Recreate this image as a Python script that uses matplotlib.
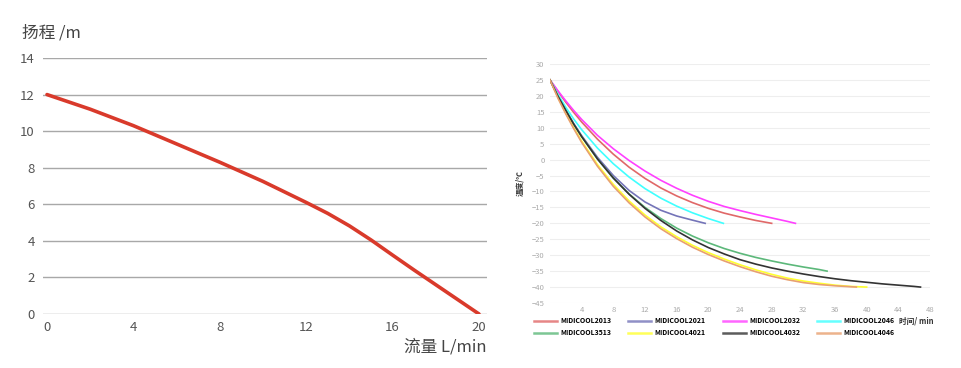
import matplotlib
matplotlib.use("Agg")
import matplotlib.pyplot as plt

plt.rcParams['font.family'] = ['Noto Sans CJK SC', 'DejaVu Sans']

# 扬程 - 流量
flow = [0, 2, 4, 6, 8, 10, 12, 13, 14, 15, 16, 17, 18, 19, 20]
head = [12.0, 11.2, 10.3, 9.3, 8.3, 7.25, 6.1, 5.5, 4.82, 4.05, 3.22, 2.4, 1.6, 0.8, 0.0]
flow_ticks = [0, 4, 8, 12, 16, 20]
head_ticks = [0, 2, 4, 6, 8, 10, 12, 14]

# 温度 - 时间
t_2013 = [0, 1, 2, 3, 4, 6, 8, 10, 12, 14, 16, 18, 20, 22, 24, 26, 28]
T_2013 = [25, 21.4, 18.0, 14.8, 11.8, 6.4, 1.7, -2.4, -5.9, -8.9, -11.4, -13.5, -15.3, -16.8, -18.0, -19.1, -20.0]
t_2021 = [0, 1, 2, 3, 4, 6, 8, 10, 12, 14, 16, 18, 19.6]
T_2021 = [25, 19.9, 15.5, 11.3, 7.5, 0.7, -5.0, -9.7, -13.3, -15.9, -17.7, -19.0, -20.0]
t_2032 = [0, 1, 2, 3, 4, 6, 8, 10, 12, 14, 16, 18, 20, 22, 24, 26, 28, 30, 31]
T_2032 = [25, 21.6, 18.4, 15.4, 12.6, 7.6, 3.4, -0.3, -3.6, -6.5, -9.0, -11.2, -13.1, -14.7, -16.0, -17.2, -18.3, -19.4, -20.0]
t_2046 = [0, 1, 2, 3, 4, 6, 8, 10, 12, 14, 16, 18, 20, 21.9]
T_2046 = [25, 20.5, 16.4, 12.7, 9.4, 3.6, -1.3, -5.5, -9.1, -12.1, -14.6, -16.7, -18.5, -20.0]
t_3513 = [0, 1, 2, 3, 4, 6, 8, 10, 12, 14, 16, 18, 20, 22, 24, 26, 28, 30, 32, 34, 35]
T_3513 = [25, 19.9, 15.4, 11.1, 7.2, 0.2, -5.8, -10.8, -15.0, -18.5, -21.5, -24.0, -26.1, -27.9, -29.4, -30.7, -31.8, -32.8, -33.7, -34.5, -35.0]
t_4021 = [0, 1, 2, 3, 4, 6, 8, 10, 12, 14, 16, 18, 20, 22, 24, 26, 28, 30, 32, 34, 36, 38, 40]
T_4021 = [25, 19.5, 14.6, 10.0, 5.8, -1.6, -7.8, -13.0, -17.4, -21.1, -24.2, -26.9, -29.2, -31.2, -33.0, -34.6, -36.0, -37.2, -38.1, -38.8, -39.4, -39.8, -40.0]
t_4032 = [0, 1, 2, 3, 4, 6, 8, 10, 12, 14, 16, 18, 20, 22, 24, 26, 28, 30, 32, 34, 36, 38, 40, 42, 44, 46, 46.8]
T_4032 = [25, 19.9, 15.4, 11.1, 7.2, 0.2, -5.8, -10.9, -15.3, -19.1, -22.4, -25.2, -27.6, -29.6, -31.4, -32.8, -34.0, -35.0, -35.9, -36.7, -37.4, -38.0, -38.5, -39.0, -39.4, -39.8, -40.0]
t_4046 = [0, 1, 2, 3, 4, 6, 8, 10, 12, 14, 16, 18, 20, 22, 24, 26, 28, 30, 32, 34, 36, 38.7]
T_4046 = [25, 19.3, 14.3, 9.7, 5.4, -2.1, -8.4, -13.6, -18.0, -21.7, -24.8, -27.5, -29.8, -31.8, -33.6, -35.2, -36.6, -37.7, -38.6, -39.2, -39.6, -40.0]

models = ['MIDICOOL2013', 'MIDICOOL2021', 'MIDICOOL2032', 'MIDICOOL2046',
          'MIDICOOL3513', 'MIDICOOL4021', 'MIDICOOL4032', 'MIDICOOL4046']
times = [t_2013, t_2021, t_2032, t_2046, t_3513, t_4021, t_4032, t_4046]
temps = [T_2013, T_2021, T_2032, T_2046, T_3513, T_4021, T_4032, T_4046]
colors = ['#e06868', '#7474b8', '#ff40ff', '#40ffff', '#5cb87a', '#ffff30', '#333333', '#e8a070']
time_ticks = [4, 8, 12, 16, 20, 24, 28, 32, 36, 40, 44, 48]
temp_ticks = list(range(-45, 31, 5))

fig = plt.figure(figsize=(9.61, 3.68), dpi=100)

# 左图
ax1 = fig.add_axes([43 / 961, 1 - 314 / 368, 444 / 961, 256 / 368])
ax1.plot(flow, head, color='#d93a2b', lw=2.6, solid_capstyle='round')
ax1.set_xlim(-0.185, 20.37)
ax1.set_ylim(0, 14)
ax1.set_xticks(flow_ticks)
ax1.set_yticks(head_ticks)
ax1.grid(axis='y', color='#a8a8a8', lw=1)
ax1.set_axisbelow(True)
for s in ax1.spines.values():
    s.set_visible(False)
ax1.tick_params(length=0, labelsize=9.5, labelcolor='#555555', pad=6)
ax1.tick_params(axis='x', pad=5)
fig.text(22 / 961, 1 - 33 / 368, '扬程 /m', fontsize=12, color='#444444', va='center', ha='left')
fig.text(487 / 961, 1 - 347 / 368, '流量 L/min', fontsize=12, color='#444444', va='center', ha='right')

# 右图
ax2 = fig.add_axes([550 / 961, 1 - 303 / 368, 380 / 961, 239 / 368])
lines = []
for t, T, c, m in zip(times, temps, colors, models):
    ln, = ax2.plot(t, T, color=c, lw=1.2, label=m)
    lines.append(ln)
ax2.set_xlim(0, 48)
ax2.set_ylim(-45, 30)
ax2.set_xticks(time_ticks)
ax2.set_yticks(temp_ticks)
ax2.grid(axis='y', color='#eeeeee', lw=0.8)
ax2.set_axisbelow(True)
for s in ax2.spines.values():
    s.set_visible(False)
ax2.tick_params(length=0, labelsize=5.5, labelcolor='#aaaaaa', pad=4)
ax2.tick_params(axis='x', pad=2)
ax2.set_ylabel('温度/℃', fontsize=5.5, fontweight='bold', color='#333333', labelpad=5)
fig.text(899 / 961, 1 - 321 / 368, '时间/ min', fontsize=5.5, fontweight='bold', color='#333333', va='center', ha='left')

order = [0, 4, 1, 5, 2, 6, 3, 7]
fig.legend([lines[i] for i in order], [models[i] for i in order], ncol=4,
           loc='upper left', bbox_to_anchor=(534 / 961, 1 - 317 / 368),
           frameon=False, prop={'size': 5, 'weight': 'bold'},
           handlelength=3.3, handletextpad=0.45, columnspacing=2.5,
           labelspacing=0.75, borderpad=0, borderaxespad=0)
for h in fig.legends[0].get_lines():
    h.set_linewidth(1.8)
    h.set_alpha(0.8)

fig.savefig('out.png', dpi=100)
